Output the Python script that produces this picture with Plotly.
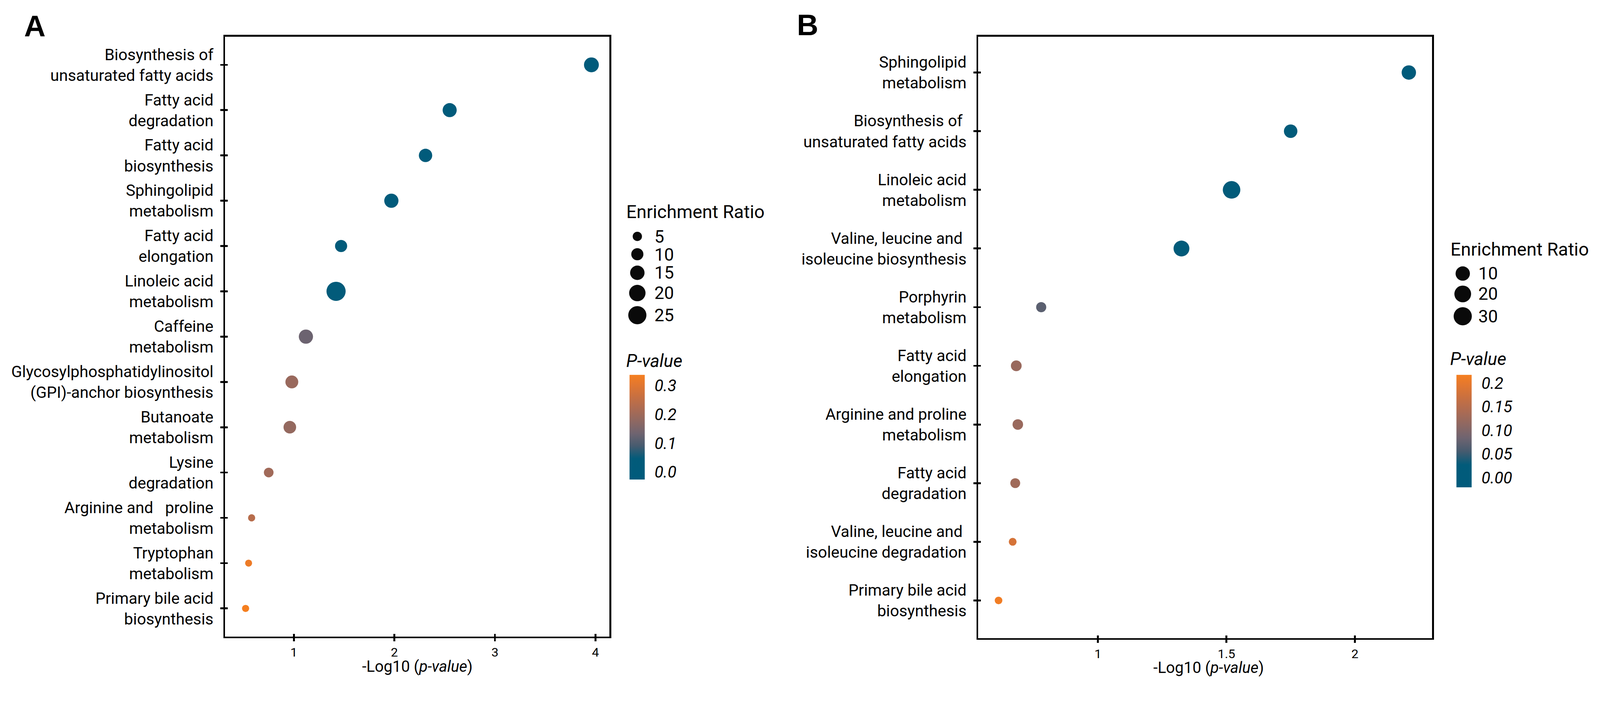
import numpy as np
import plotly.graph_objects as go

W, H = 4313, 1850
NB = "\u00a0"

# ---------------- Panel A data ----------------
a_pathways = [
    "Biosynthesis of<br>unsaturated fatty acids",
    "Fatty acid<br>degradation",
    "Fatty acid<br>biosynthesis",
    "Sphingolipid<br>metabolism",
    "Fatty acid<br>elongation",
    "Linoleic acid<br>metabolism",
    "Caffeine<br>metabolism",
    "Glycosylphosphatidylinositol<br>(GPI)-anchor biosynthesis",
    "Butanoate<br>metabolism",
    "Lysine<br>degradation",
    "Arginine and" + NB + NB + " proline<br>metabolism",
    "Tryptophan<br>metabolism",
    "Primary bile acid<br>biosynthesis",
]
a_neglog10p = [3.96, 2.55, 2.31, 1.97, 1.47, 1.42, 1.12, 0.98, 0.96, 0.75, 0.58, 0.55, 0.52]
a_pvalue = [0.0001, 0.003, 0.005, 0.011, 0.034, 0.038, 0.131, 0.192, 0.185, 0.203, 0.236, 0.322, 0.337]
a_enrichment = [16.0, 14.2, 12.6, 14.5, 10.0, 28.0, 14.5, 11.5, 11.0, 5.6, 2.2, 2.0, 2.2]
a_size_breaks = [5, 10, 15, 20, 25]
a_x_ticks = [1, 2, 3, 4]
a_x_ticktext = ["1", "2", "3", "4"]
a_p_ticks = [0.0, 0.1, 0.2, 0.3]
a_p_ticktext = ["0.0", "0.1", "0.2", "0.3"]

# ---------------- Panel B data ----------------
b_pathways = [
    "Sphingolipid<br>metabolism",
    "Biosynthesis of" + NB + "<br>unsaturated fatty acids",
    "Linoleic acid<br>metabolism",
    "Valine, leucine and" + NB + "<br>isoleucine biosynthesis",
    "Porphyrin<br>metabolism",
    "Fatty acid<br>elongation",
    "Arginine and proline<br>metabolism",
    "Fatty acid<br>degradation",
    "Valine, leucine and" + NB + "<br>isoleucine degradation",
    "Primary bile acid<br>biosynthesis",
]
b_neglog10p = [2.21, 1.75, 1.52, 1.325, 0.779, 0.682, 0.688, 0.678, 0.668, 0.613]
b_pvalue = [0.006, 0.018, 0.020, 0.022, 0.070, 0.122, 0.122, 0.129, 0.182, 0.212]
b_enrichment = [10.1, 7.8, 25.1, 15.3, 2.97, 3.56, 3.34, 2.73, 1.52, 1.45]
b_size_breaks = [10, 20, 30]
b_x_ticks = [1, 1.5, 2]
b_x_ticktext = ["1", "1.5", "2"]
b_p_ticks = [0.0, 0.05, 0.10, 0.15, 0.2]
b_p_ticktext = ["0.00", "0.05", "0.10", "0.15", "0.2"]

# ---------------- scales / styles ----------------
colorscale = [
    [0.00, "#005B7C"], [0.20, "#025B7A"], [0.32, "#465B6F"], [0.44, "#6F6470"],
    [0.56, "#8F6862"], [0.68, "#AD6B52"], [0.80, "#C97040"], [0.92, "#E5782E"],
    [1.00, "#F57F20"],
]


def size_a(v):
    return np.sqrt(181 + 88.8 * np.asarray(v, dtype=float))


def size_b(v):
    return 17.1 + 9.375 * np.log(np.asarray(v, dtype=float))


FONT = "Roboto"
BLACK = "#000000"


def px_x(p):
    return p / W


def px_y(p):
    return 1 - p / H


fig = go.Figure()

# Panel A points
fig.add_trace(go.Scatter(
    x=a_neglog10p, y=list(range(len(a_pathways))), mode="markers",
    marker=dict(size=size_a(a_enrichment), color=a_pvalue, coloraxis="coloraxis",
                line=dict(width=0), opacity=1),
    xaxis="x", yaxis="y", showlegend=False, hoverinfo="skip",
))
# Panel B points
fig.add_trace(go.Scatter(
    x=b_neglog10p, y=list(range(len(b_pathways))), mode="markers",
    marker=dict(size=size_b(b_enrichment), color=b_pvalue, coloraxis="coloraxis2",
                line=dict(width=0), opacity=1),
    xaxis="x2", yaxis="y2", showlegend=False, hoverinfo="skip",
))

# empty traces so the overlay axes (inner halves of the crossing ticks) are drawn
for xa, ya in [("x4", "y"), ("x", "y4"), ("x5", "y2"), ("x2", "y5")]:
    fig.add_trace(go.Scatter(x=[], y=[], mode="markers", xaxis=xa, yaxis=ya,
                             showlegend=False, hoverinfo="skip"))


# Size legends drawn on a pixel overlay axis
def legend_centers(sizes, y0):
    keys = [max(d + 13, 48) for d in sizes]
    ys = [y0]
    for i in range(1, len(sizes)):
        ys.append(ys[-1] + (keys[i - 1] + keys[i]) / 2)
    return ys


annotations = []

a_leg_sizes = list(size_a(a_size_breaks))
a_leg_y = legend_centers(a_leg_sizes, 637)
fig.add_trace(go.Scatter(
    x=[1718] * len(a_size_breaks), y=a_leg_y, mode="markers",
    marker=dict(size=a_leg_sizes, color="#0A0A0A", line=dict(width=0), opacity=1),
    xaxis="x3", yaxis="y3", showlegend=False, hoverinfo="skip",
))
for v, yy in zip(a_size_breaks, a_leg_y):
    annotations.append(dict(text=str(v), x=px_x(1762), y=px_y(yy), xref="paper", yref="paper",
                            xanchor="left", yanchor="middle", showarrow=False,
                            font=dict(family=FONT, size=47, color=BLACK)))

b_leg_sizes = list(size_b(b_size_breaks))
b_leg_y = legend_centers(b_leg_sizes, 737)
fig.add_trace(go.Scatter(
    x=[3943] * len(b_size_breaks), y=b_leg_y, mode="markers",
    marker=dict(size=b_leg_sizes, color="#0A0A0A", line=dict(width=0), opacity=1),
    xaxis="x3", yaxis="y3", showlegend=False, hoverinfo="skip",
))
for v, yy in zip(b_size_breaks, b_leg_y):
    annotations.append(dict(text=str(v), x=px_x(3983), y=px_y(yy), xref="paper", yref="paper",
                            xanchor="left", yanchor="middle", showarrow=False,
                            font=dict(family=FONT, size=47, color=BLACK)))

# Titles, panel letters
for txt, x, y in [("<b>A</b>", 63, 24), ("<b>B</b>", 2146, 21)]:
    annotations.append(dict(text=txt, x=px_x(x), y=px_y(y), xref="paper", yref="paper",
                            xanchor="left", yanchor="top", showarrow=False,
                            font=dict(family="Liberation Sans", size=80, color=BLACK)))
for cx, cy in [(1125, 1795), (3258, 1798)]:
    annotations.append(dict(text="-Log10 (<i>p-value</i>)", x=px_x(cx), y=px_y(cy),
                            xref="paper", yref="paper", xanchor="center", yanchor="middle",
                            showarrow=False, font=dict(family=FONT, size=42, color=BLACK)))
for x, y in [(1686, 572), (3908, 672)]:
    annotations.append(dict(text="Enrichment Ratio", x=px_x(x), y=px_y(y), xref="paper", yref="paper",
                            xanchor="left", yanchor="middle", showarrow=False,
                            font=dict(family=FONT, size=49, color=BLACK)))
for x, y in [(1686, 973), (3907, 966)]:
    annotations.append(dict(text="<i>P-value</i>", x=px_x(x), y=px_y(y), xref="paper", yref="paper",
                            xanchor="left", yanchor="middle", showarrow=False,
                            font=dict(family=FONT, size=48, color=BLACK)))

axis_common = dict(showline=True, linewidth=5, linecolor=BLACK, mirror=True, showgrid=False,
                   zeroline=False, ticks="outside", tickwidth=5, tickcolor=BLACK)
inner_ticks = dict(showline=False, showgrid=False, zeroline=False, ticks="inside",
                   tickwidth=5, tickcolor=BLACK, ticklen=7, showticklabels=False)


def colorbar(x_left, y_top, length, tickvals, ticktext):
    return dict(x=px_x(x_left), xanchor="left", y=px_y(y_top), yanchor="top",
                len=length, lenmode="pixels", thickness=41, thicknessmode="pixels",
                xpad=0, ypad=0, outlinewidth=0, tickvals=tickvals, ticktext=ticktext,
                ticks="outside", ticklen=18, tickcolor="rgba(0,0,0,0)",
                tickfont=dict(family=FONT, size=44, color=BLACK, style="italic"))


a_xrange = [0.317, 4.14]
a_yrange = [len(a_pathways) - 1 + 0.62, -0.62]
b_xrange = [0.534, 2.30]
b_yrange = [len(b_pathways) - 1 + 0.64, -0.61]

fig.update_layout(
    width=W, height=H, margin=dict(l=0, r=0, t=0, b=0),
    paper_bgcolor="white", plot_bgcolor="rgba(0,0,0,0)", showlegend=False,
    font=dict(family=FONT, color=BLACK),
    xaxis=dict(domain=[px_x(607), px_x(1643)], range=a_xrange, anchor="y",
               tickvals=a_x_ticks, ticktext=a_x_ticktext, ticklen=8,
               tickfont=dict(family=FONT, size=34, color=BLACK), **axis_common),
    yaxis=dict(domain=[px_y(1715), px_y(99)], range=a_yrange, anchor="x",
               tickvals=list(range(len(a_pathways))), ticktext=a_pathways, ticklen=8,
               ticklabelstandoff=10,
               tickfont=dict(family=FONT, size=43, color=BLACK), **axis_common),
    xaxis2=dict(domain=[px_x(2637), px_x(3860)], range=b_xrange, anchor="y2",
                tickvals=b_x_ticks, ticktext=b_x_ticktext, ticklen=8,
                tickfont=dict(family=FONT, size=34, color=BLACK), **axis_common),
    yaxis2=dict(domain=[px_y(1719), px_y(99)], range=b_yrange, anchor="x2",
                tickvals=list(range(len(b_pathways))), ticktext=b_pathways, ticklen=8,
                ticklabelstandoff=10,
                tickfont=dict(family=FONT, size=43, color=BLACK), **axis_common),
    xaxis3=dict(domain=[0, 1], range=[0, W], visible=False, anchor="y3", fixedrange=True),
    yaxis3=dict(domain=[0, 1], range=[H, 0], visible=False, anchor="x3", fixedrange=True),
    xaxis4=dict(overlaying="x", anchor="y", side="bottom", range=a_xrange,
                tickvals=a_x_ticks, **inner_ticks),
    yaxis4=dict(overlaying="y", anchor="x", side="left", range=a_yrange,
                tickvals=list(range(len(a_pathways))), **inner_ticks),
    xaxis5=dict(overlaying="x2", anchor="y2", side="bottom", range=b_xrange,
                tickvals=b_x_ticks, **inner_ticks),
    yaxis5=dict(overlaying="y2", anchor="x2", side="left", range=b_yrange,
                tickvals=list(range(len(b_pathways))), **inner_ticks),
    coloraxis=dict(colorscale=colorscale, cmin=-0.026, cmax=0.337,
                   colorbar=colorbar(1697, 1010, 282, a_p_ticks, a_p_ticktext)),
    coloraxis2=dict(colorscale=colorscale, cmin=-0.0204, cmax=0.2173,
                    colorbar=colorbar(3926, 1010, 303, b_p_ticks, b_p_ticktext)),
    annotations=annotations,
)

# Fit the fixed-size figure into whatever viewport the page is shown in.
fit_script = """
(function(){
  var gd = document.getElementById('{plot_id}');
  document.documentElement.style.margin = '0';
  document.body.style.margin = '0';
  document.body.style.overflow = 'hidden';
  var s = Math.min(window.innerWidth / %d, window.innerHeight / %d);
  if (Math.abs(s - 1) > 0.002) {
    gd.style.transformOrigin = '0 0';
    gd.style.transform = 'scale(' + s + ')';
  }
})();
""" % (W, H)

fig.write_html("out.html", post_script=fit_script, config={"displayModeBar": False})
